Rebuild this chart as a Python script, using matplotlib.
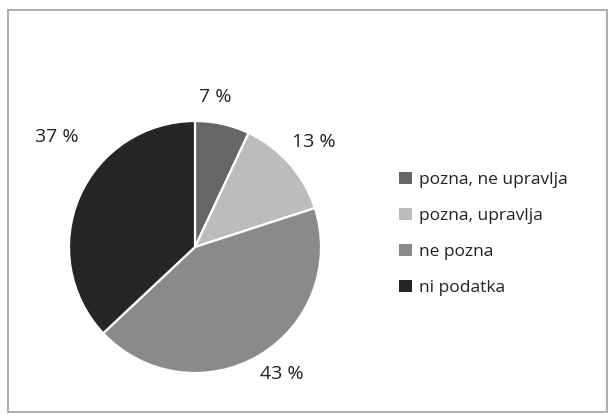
import numpy as np
import matplotlib
matplotlib.use("Agg")
import matplotlib.pyplot as plt
from matplotlib.patches import Rectangle

categories = ["pozna, ne upravlja", "pozna, upravlja", "ne pozna", "ni podatka"]
shares = [7, 13, 43, 37]
colors = ["#666666", "#bcbcbc", "#8a8a8a", "#262626"]

# label placement (angle offset in degrees, radial distance) per wedge
label_pos = [(5, 1.20), (0, 1.26), (4, 1.22), (-15, 1.40)]

def main():
    plt.rcParams["font.family"] = ["Open Sans", "DejaVu Sans"]
    fig = plt.figure(figsize=(6.15, 4.2), dpi=100)

    # outer frame
    fig.patches.append(Rectangle((8/615, 8/420), 599/615, 402/420, transform=fig.transFigure,
                                 fill=False, edgecolor="#a0a0a0", lw=1.2))

    cx, cy, r = 195, 247, 126
    ax = fig.add_axes([(cx-r)/615, (420-cy-r)/420, 2*r/615, 2*r/420])
    wedges, _ = ax.pie(shares, colors=colors, startangle=90, counterclock=False,
                       radius=1, wedgeprops=dict(edgecolor="white", linewidth=1.6))
    ax.set_xlim(-1, 1)
    ax.set_ylim(-1, 1)
    ax.set_aspect("auto")
    ax.axis("off")

    for w, s, (da, dist) in zip(wedges, shares, label_pos):
        ang = np.deg2rad((w.theta1 + w.theta2) / 2 + da)
        ax.text(dist*np.cos(ang), dist*np.sin(ang), "{} %".format(s),
                ha="center", va="center", fontsize=14, color="#222222", clip_on=False)

    leg = fig.legend(wedges, categories, loc="upper left", bbox_to_anchor=(383/615, 1-156/420),
                     frameon=False, fontsize=12.5, handlelength=0.75, handleheight=0.75,
                     handletextpad=0.45, labelspacing=1.13, labelcolor="#222222")
    for h in leg.legend_handles:
        h.set_edgecolor("none")

    fig.savefig("out.png", dpi=100)
    plt.close()

if __name__ == "__main__":
    main()
